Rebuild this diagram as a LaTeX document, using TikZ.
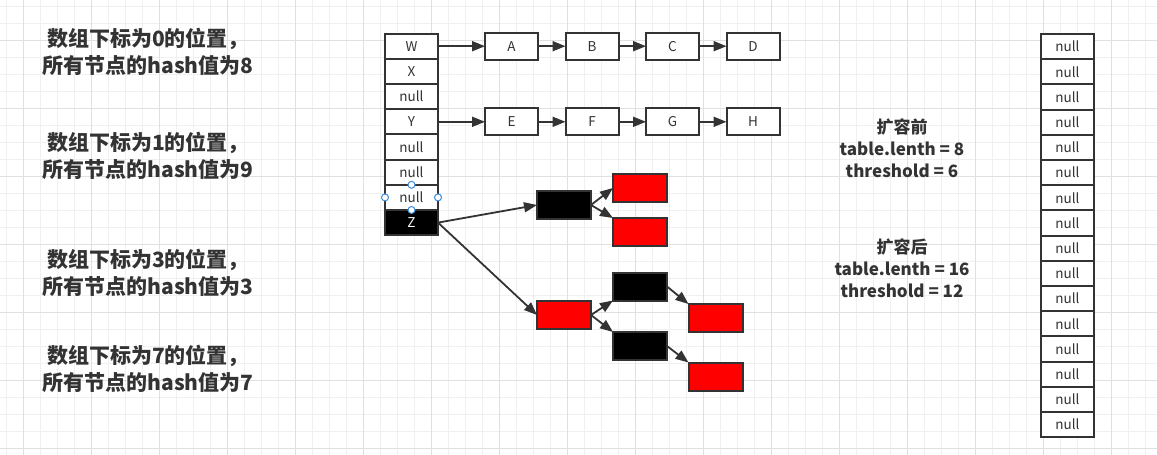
\documentclass[tikz,border=0pt]{standalone}
\usepackage{fontspec}
\setmainfont{Noto Sans CJK SC}
\usepackage{xcolor}
\usepackage{tikz}
\usetikzlibrary{arrows.meta,positioning}
\definecolor{ink}{HTML}{333333}
\definecolor{gridminor}{HTML}{F0F0F0}
\definecolor{gridmajor}{HTML}{E0E0E0}
\definecolor{nodered}{HTML}{FF0000}
\definecolor{handle}{HTML}{3C8BD9}
\tikzset{
  cell/.style={
    draw=ink,fill=white,line width=2pt,outer sep=0pt,
    minimum width=53pt,minimum height=25.2pt,inner sep=0pt,
    font=\fontsize{13.5}{15}\selectfont,text=ink
  },
  listbox/.style={
    draw=ink,fill=white,line width=2pt,outer sep=0pt,
    minimum width=53pt,minimum height=27pt,inner sep=0pt,
    font=\fontsize{13.5}{15}\selectfont,text=ink
  },
  blackbox/.style={
    draw=ink,fill=black,line width=2pt,outer sep=0pt,
    minimum width=54pt,minimum height=28pt
  },
  redbox/.style={
    draw=ink,fill=nodered,line width=2pt,outer sep=0pt,
    minimum width=54pt,minimum height=28pt
  },
  note/.style={
    align=center,text=ink,inner sep=0pt,
    font=\bfseries\fontsize{21}{27}\selectfont
  },
  info/.style={
    align=center,text=ink,inner sep=0pt,
    font=\bfseries\fontsize{17}{22}\selectfont
  },
  handledot/.style={circle,draw=handle,fill=white,line width=1pt,
    inner sep=0pt,minimum size=7pt},
  arrow/.style={-{Triangle[length=13pt,width=10pt]},draw=ink,line width=1.8pt}
}
\begin{document}
\begin{tikzpicture}[x=1pt,y=-1pt,node distance=27.5pt]
% background and grid
\fill[white] (0,0) rectangle (1157,455);
\useasboundingbox (0,0) rectangle (1157,455);
\foreach \x in {6,23,...,1157} \draw[gridminor,line width=.8pt] (\x,0) -- (\x,455);
\foreach \y in {6,23,...,455} \draw[gridminor,line width=.8pt] (0,\y) -- (1157,\y);
\foreach \x in {23,91,...,1157} \draw[gridmajor,line width=.8pt] (\x,0) -- (\x,455);
\foreach \y in {40,108,...,455} \draw[gridmajor,line width=.8pt] (0,\y) -- (1157,\y);

% notes on the left
\node[note] (n0) at (148,51.5) {数组下标为0的位置，\\所有节点的hash值为8};
\node[note] (n1) at (148,156) {数组下标为1的位置，\\所有节点的hash值为9};
\node[note] (n3) at (148,272.5) {数组下标为3的位置，\\所有节点的hash值为3};
\node[note] (n7) at (148,369) {数组下标为7的位置，\\所有节点的hash值为7};

% old table
\node[cell] (t0) at (411.5,46.2) {W};
\node[cell,below=0pt of t0] (t1) {X};
\node[cell,below=0pt of t1] (t2) {null};
\node[cell,below=0pt of t2] (t3) {Y};
\node[cell,below=0pt of t3] (t4) {null};
\node[cell,below=0pt of t4] (t5) {null};
\node[cell,below=0pt of t5] (t6) {null};
\node[cell,below=0pt of t6,fill=black,text=white] (t7) {Z};

% selection handles
\foreach \a in {north,south,east,west}
  \node[handledot] at (t6.\a) {};

% lists
\node[listbox,right=47pt of t0] (la) {A};
\node[listbox,right=of la] (lb) {B};
\node[listbox,right=of lb] (lc) {C};
\node[listbox,right=of lc] (ld) {D};
\node[listbox,right=47pt of t3] (le) {E};
\node[listbox,right=of le] (lf) {F};
\node[listbox,right=of lf] (lg) {G};
\node[listbox,right=of lg] (lh) {H};

\draw[arrow] (t0)--(la);
\draw[arrow] (la)--(lb);
\draw[arrow] (lb)--(lc);
\draw[arrow] (lc)--(ld);
\draw[arrow] (t3)--(le);
\draw[arrow] (le)--(lf);
\draw[arrow] (lf)--(lg);
\draw[arrow] (lg)--(lh);

% tree
\node[blackbox] (k1) at (564,205) {};
\node[redbox] (r1) at (640,188) {};
\node[redbox] (r2) at (640,232) {};
\node[redbox] (r3) at (564,315) {};
\node[blackbox] (k2) at (640,286.5) {};
\node[blackbox] (k3) at (640,346) {};
\node[redbox] (r4) at (715.5,318) {};
\node[redbox] (r5) at (715.5,376.5) {};

\draw[arrow] (t7.east)--(k1.west);
\draw[arrow] (t7.east)--(r3.west);
\draw[arrow] (k1.east)--(r1.west);
\draw[arrow] (k1.east)--(r2.north west);
\draw[arrow] (r3.east)--(k2.south west);
\draw[arrow] (r3.east)--(k3.north west);
\draw[arrow] (k2.east)--(r4.north west);
\draw[arrow] (k3.east)--(r5.north west);

% resize info
\node[info] (before) at (902,148) {扩容前\\table.lenth = 8\\threshold = 6};
\node[info] (after) at (902,268.5) {扩容后\\table.lenth = 16\\threshold = 12};

% new table
\node[cell] (s0) at (1067.5,46.6) {null};
\foreach \i [count=\j from 0] in {1,...,15}
  \node[cell,below=0pt of s\j] (s\i) {null};
\end{tikzpicture}
\end{document}
